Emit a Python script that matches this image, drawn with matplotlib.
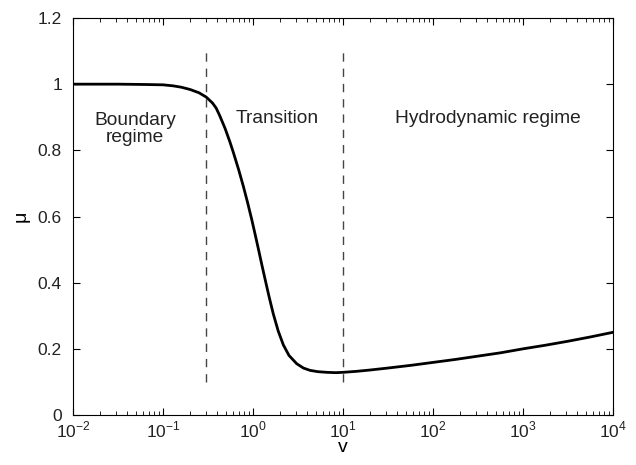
import matplotlib
matplotlib.use('Agg')
import matplotlib.pyplot as plt
from matplotlib.ticker import FixedLocator, FuncFormatter

plt.rcParams['font.family'] = ['Liberation Sans', 'DejaVu Sans']
plt.rcParams['mathtext.fontset'] = 'custom'
plt.rcParams['mathtext.rm'] = 'Liberation Sans'

# curve (log10 v, mu)
logv = [-2, -1.5, -1.2, -1.0, -0.89, -0.8, -0.7, -0.6, -0.52, -0.45, -0.41,
        -0.37, -0.31, -0.256, -0.22, -0.16, -0.108, -0.06, -0.015, 0.022,
        0.059, 0.095, 0.133, 0.18, 0.226, 0.28, 0.337, 0.40, 0.486, 0.56,
        0.633, 0.72, 0.82, 0.92, 1.0, 1.15, 1.3, 1.5, 1.75, 2.0, 2.25, 2.5,
        2.75, 3.0, 3.25, 3.5, 3.75, 4.0]
mu = [1.0, 1.0, 0.999, 0.998, 0.995, 0.991, 0.984, 0.974, 0.961, 0.943, 0.928,
      0.905, 0.866, 0.825, 0.795, 0.742, 0.692, 0.642, 0.592, 0.548,
      0.503, 0.458, 0.412, 0.356, 0.305, 0.254, 0.212, 0.180, 0.155, 0.142,
      0.135, 0.131, 0.129, 0.128, 0.129, 0.132, 0.136, 0.142, 0.150, 0.159,
      0.168, 0.178, 0.188, 0.200, 0.211, 0.223, 0.236, 0.250]
v = [10 ** p for p in logv]

bounds = [0.3, 10]
regions = ['Boundary\nregime', 'Transition', 'Hydrodynamic regime']
region_x = [0.049, 1.85, 410]
region_y = [0.865, 0.897, 0.897]

fig = plt.figure(figsize=(6.36, 4.65), dpi=100)
ax = fig.add_axes([0.1148, 0.1075, 0.849, 0.8538])

ax.plot(v, mu, color='black', lw=2)
for b in bounds:
    ax.plot([b, b], [0.1, 1.1], color='#444444', lw=1, dashes=(6, 5))

for t, x, y in zip(regions, region_x, region_y):
    ax.text(x, y, t, ha='center', va='center', fontsize=13.8, linespacing=1.05,
            color='#222222')

ax.set_xscale('log')
ax.set_xlim(1e-2, 1e4)
ax.set_ylim(0, 1.2)
ax.xaxis.set_major_locator(FixedLocator([1e-2, 1e-1, 1, 1e1, 1e2, 1e3, 1e4]))
ax.set_xticklabels([r'$10^{-2}$', r'$10^{-1}$', r'$10^{0}$', r'$10^{1}$',
                    r'$10^{2}$', r'$10^{3}$', r'$10^{4}$'])
ax.set_yticks([0, 0.2, 0.4, 0.6, 0.8, 1.0, 1.2])
ax.yaxis.set_major_formatter(FuncFormatter(lambda y, p: '%g' % y))
ax.tick_params(which='both', direction='in', top=True, right=True, labelsize=12.5,
               labelcolor='#222222')
ax.tick_params(which='major', length=5)
ax.tick_params(which='minor', length=3)
ax.tick_params(axis='y', pad=8)
ax.set_xlabel('v', fontsize=14, labelpad=-1)
ax.set_ylabel('μ', fontsize=14, labelpad=6)

fig.savefig('out.png', dpi=100)
